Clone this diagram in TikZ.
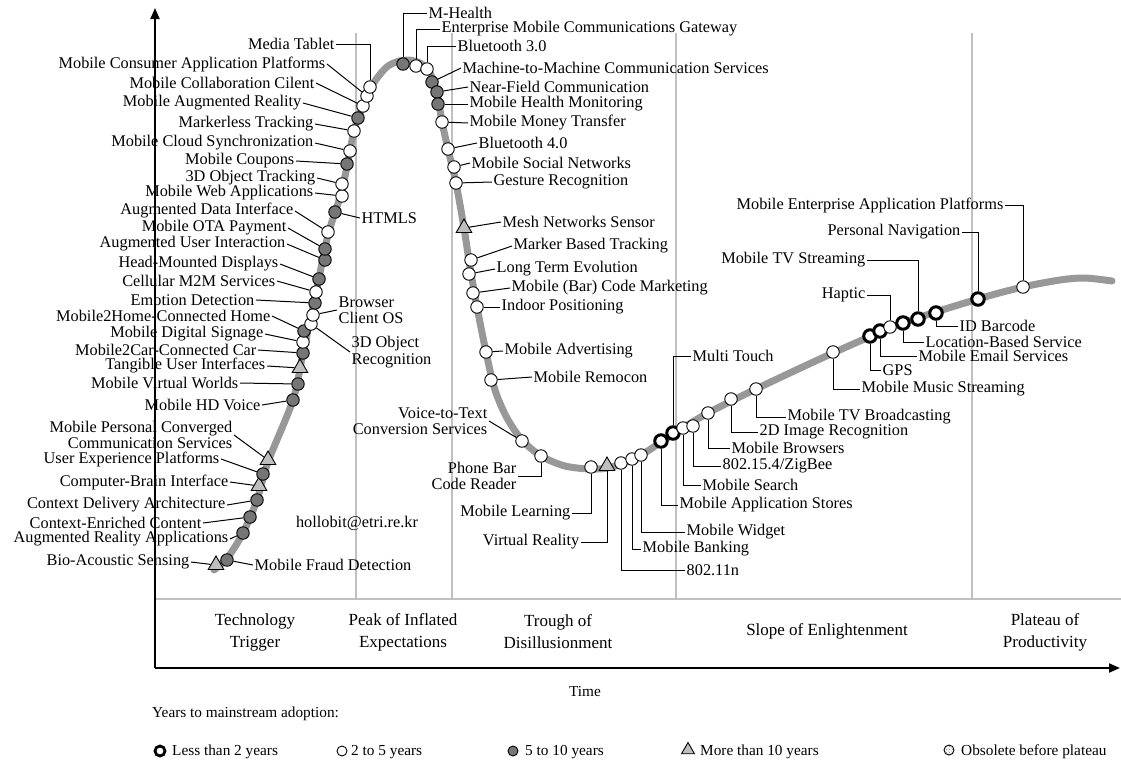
\documentclass[tikz,border=0pt]{standalone}
\usepackage{fontspec}
\setmainfont{Liberation Serif}
\usetikzlibrary{shapes.geometric,arrows.meta,patterns}
\definecolor{dkfill}{RGB}{118,118,118}
\definecolor{trifill}{RGB}{190,190,190}
\definecolor{curvec}{RGB}{152,152,152}
\definecolor{phasec}{RGB}{192,192,192}
\begin{document}
\begin{tikzpicture}[x=1pt,y=-1pt,
  every node/.style={inner sep=0pt},
  mk/.style={circle,draw=black,line width=0.9pt,minimum size=12.5pt},
  wc/.style={mk,fill=white},
  dc/.style={mk,fill=dkfill},
  bc/.style={circle,draw=black,line width=3pt,fill=white,minimum size=12.5pt},
  tri/.style={regular polygon,regular polygon sides=3,draw=black,line width=0.9pt,fill=trifill,minimum size=18pt},
  lab/.style={font=\fontsize{16.3}{16.5}\selectfont,inner sep=1.5pt},
  small/.style={font=\fontsize{15.3}{21}\selectfont},
  phlab/.style={font=\fontsize{17}{22}\selectfont},
  ld/.style={draw=black,line width=1pt},
  curve/.style={draw=curvec,line width=7pt,line cap=round},
  phase/.style={draw=phasec,line width=1.5pt},
  axis/.style={draw=black,line width=2pt,-{Triangle[length=11pt,width=9pt]}}
]
\useasboundingbox (0,0) rectangle (1121,769);

% phase grid
\draw[phase] (155,599) -- (1121,599);
\foreach \px in {356,452,676,972} \draw[phase] (\px,33) -- (\px,599);

% axes
\coordinate (origin) at (155,668);
\coordinate (ytop) at (155,8);
\coordinate (xend) at (1120,668);
\draw[axis] (origin) -- (ytop);
\draw[axis] (origin) -- (xend);

% hype curve
\draw[curve] plot[smooth,tension=0.5] coordinates {
 (214,570) (228,557) (243,533) (257,500) (268,462) (293,400) (303,353)
 (316,293) (328,235) (342,190) (354,131) (363,106) (373,84) (388,66)
 (405,60) (420,63) (430,73) (437,93) (442,122) (448,149) (456,183)
 (464,228) (470,267) (477,307) (486,352) (495,390) (507,418) (522,440)
 (541,456) (565,466) (591,469) (612,467) (641,455) (673,434) (708,413)
 (756,389) (833,353) (903,323) (978,299) (1023,287) (1060,280) (1085,278) (1112,281)};

% markers
\node[tri] (mbio) at (216,565) {};
\node[dc] (mfraud) at (227,560) {};
\node[dc] (mara) at (243,533) {};
\node[dc] (mcec) at (250,517) {};
\node[dc] (mcda) at (257,500) {};
\node[tri] (mcbi) at (259,486) {};
\node[dc] (muxp) at (263,474) {};
\node[tri] (mmpc) at (268,460) {};
\node[dc] (mhdv) at (293,400) {};
\node[dc] (mmvw) at (298,384) {};
\node[tri] (mtui) at (300,368) {};
\node[dc] (mm2c) at (303,353) {};
\node[wc] (mmds) at (303,342) {};
\node[dc] (mm2h) at (304,331) {};
\node[wc] (more) at (311,324) {};
\node[wc] (mbco) at (313,315) {};
\node[dc] (memo) at (315,303) {};
\node[wc] (mm2m) at (316,292) {};
\node[dc] (mhmd) at (319,279) {};
\node[dc] (maui) at (325,260) {};
\node[dc] (mota) at (325,249) {};
\node[wc] (madi) at (328,232) {};
\node[dc] (mhtml) at (335,212) {};
\node[wc] (mmwa) at (342,196) {};
\node[wc] (motr) at (342,184) {};
\node[dc] (mcou) at (347,164) {};
\node[wc] (mmcs) at (350,151) {};
\node[wc] (mmlt) at (354,131) {};
\node[dc] (mmar) at (358,118) {};
\node[wc] (mmcc) at (363,106) {};
\node[wc] (mmcap) at (367,96) {};
\node[wc] (mtab) at (370,87) {};

\node[dc] (mmh) at (403,64) {};
\node[wc] (memg) at (416,66) {};
\node[wc] (mbt3) at (427,69) {};
\node[dc] (mm2mc) at (432,82) {};
\node[dc] (mnfc) at (437,92) {};
\node[dc] (mhm) at (438,104) {};
\node[wc] (mmmt) at (442,122) {};
\node[wc] (mbt4) at (448,149) {};
\node[wc] (mmsn) at (454,167) {};
\node[wc] (mges) at (456,183) {};
\node[tri] (mmesh) at (464,228) {};
\node[wc] (mmbt) at (471,260) {};
\node[wc] (mlte) at (469,274) {};
\node[wc] (mbar) at (473,293) {};
\node[wc] (mind) at (477,307) {};
\node[wc] (madv) at (486,352) {};
\node[wc] (mrem) at (491,380) {};
\node[wc] (mvtt) at (522,441) {};
\node[wc] (mpbc) at (541,456) {};
\node[wc] (mmle) at (591,467) {};
\node[tri] (mvr) at (607,466) {};
\node[wc] (mw11) at (621,463) {};
\node[wc] (mban) at (632,459) {};
\node[wc] (mwid) at (641,455) {};
\node[bc] (mmas) at (661,441) {};
\node[bc] (mmt) at (673,433) {};
\node[wc] (msea) at (683,428) {};
\node[wc] (mzig) at (693,426) {};
\node[wc] (mbro) at (708,413) {};
\node[wc] (mimg) at (731,399) {};
\node[wc] (mtvb) at (756,389) {};
\node[wc] (mmus) at (833,352) {};
\node[bc] (mgps) at (870,336) {};
\node[bc] (mema) at (880,331) {};
\node[wc] (mhap) at (890,327) {};
\node[bc] (mlbs) at (903,323) {};
\node[bc] (mtvs) at (918,319) {};
\node[bc] (midb) at (936,313) {};
\node[bc] (mpn) at (978,299) {};
\node[wc] (mmea) at (1023,287) {};

% labels, rising slope
\node[lab,anchor=east] (ltab) at (336,44) {Media Tablet};
\node[lab,anchor=east] (lmcap) at (327,64) {Mobile Consumer Application Platforms};
\node[lab,anchor=east] (lmcc) at (316,83) {Mobile Collaboration Cilent};
\node[lab,anchor=east] (lmar) at (303,103) {Mobile Augmented Reality};
\node[lab,anchor=east] (lmlt) at (315,124) {Markerless Tracking};
\node[lab,anchor=east] (lmcs) at (315,143) {Mobile Cloud Synchronization};
\node[lab,anchor=east] (lcou) at (296,161) {Mobile Coupons};
\node[lab,anchor=east] (lotr) at (317,178) {3D Object Tracking};
\node[lab,anchor=east] (lmwa) at (315,193) {Mobile Web Applications};
\node[lab,anchor=east] (ladi) at (295,211) {Augmented Data Interface};
\node[lab,anchor=west] (lhtml) at (360,218) {HTMLS};
\node[lab,anchor=east] (lota) at (288,228) {Mobile OTA Payment};
\node[lab,anchor=east] (laui) at (287,244) {Augmented User Interaction};
\node[lab,anchor=east] (lhmd) at (280,264) {Head-Mounted Displays};
\node[lab,anchor=east] (lm2m) at (277,281) {Cellular M2M Services};
\node[lab,anchor=east] (lemo) at (256,300) {Emotion Detection};
\node[lab,anchor=west,align=left] (lbco) at (337,310) {Browser\\Client OS};
\node[lab,anchor=east] (lm2h) at (272,316) {Mobile2Home-Connected Home};
\node[lab,anchor=west,align=left] (lore) at (350,352) {3D Object\\Recognition};
\node[lab,anchor=east] (lmds) at (265,334) {Mobile Digital Signage};
\node[lab,anchor=east] (lm2c) at (258,350) {Mobile2Car-Connected Car};
\node[lab,anchor=east] (ltui) at (267,366) {Tangible User Interfaces};
\node[lab,anchor=east] (lmvw) at (240,383) {Mobile Virtual Worlds};
\node[lab,anchor=east] (lhdv) at (262,405) {Mobile HD Voice};
\node[lab,anchor=east,align=right] (lmpc) at (234,435) {Mobile Personal Converged\\Communication Services};
\node[lab,anchor=east] (luxp) at (221,459) {User Experience Platforms};
\node[lab,anchor=east] (lcbi) at (230,482) {Computer-Brain Interface};
\node[lab,anchor=east] (lcda) at (227,505) {Context Delivery Architecture};
\node[lab,anchor=east] (lcec) at (203,523) {Context-Enriched Content};
\node[lab,anchor=east] (lara) at (230,539) {Augmented Reality Applications};
\node[lab,anchor=east] (lbio) at (191,562) {Bio-Acoustic Sensing};
\node[lab,anchor=west] (lfraud) at (253,565) {Mobile Fraud Detection};
\node[lab] (mail) at (357,523) {hollobit@etri.re.kr};

% labels, peak and falling slope
\node[lab,anchor=west] (lmh) at (427,13) {M-Health};
\node[lab,anchor=west] (lemg) at (440,29) {Enterprise Mobile Communications Gateway};
\node[lab,anchor=west] (lbt3) at (456,46) {Bluetooth 3.0};
\node[lab,anchor=west] (lm2mc) at (461,68) {Machine-to-Machine Communication Services};
\node[lab,anchor=west] (lnfc) at (468,87) {Near-Field Communication};
\node[lab,anchor=west] (lhm) at (468,104) {Mobile Health Monitoring};
\node[lab,anchor=west] (lmmt) at (468,123) {Mobile Money Transfer};
\node[lab,anchor=west] (lbt4) at (477,143) {Bluetooth 4.0};
\node[lab,anchor=west] (lmsn) at (470,163) {Mobile Social Networks};
\node[lab,anchor=west] (lges) at (492,182) {Gesture Recognition};
\node[lab,anchor=west] (lmesh) at (501,222) {Mesh Networks Sensor};
\node[lab,anchor=west] (lmbt) at (512,246) {Marker Based Tracking};
\node[lab,anchor=west] (llte) at (495,269) {Long Term Evolution};
\node[lab,anchor=west] (lbar) at (510,288) {Mobile (Bar) Code Marketing};
\node[lab,anchor=west] (lind) at (500,307) {Indoor Positioning};
\node[lab,anchor=west] (ladv) at (503,351) {Mobile Advertising};
\node[lab,anchor=west] (lrem) at (532,377) {Mobile Remocon};
\node[lab,anchor=east,align=right] (lvtt) at (489,421) {Voice-to-Text\\Conversion Services};
\node[lab,anchor=east,align=right] (lpbc) at (518,476) {Phone Bar\\Code Reader};
\node[lab,anchor=east] (lmle) at (572,513) {Mobile Learning};
\node[lab,anchor=east] (lvr) at (581,542) {Virtual Reality};
\node[lab,anchor=west] (lw11) at (685,570) {802.11n};
\node[lab,anchor=west] (lban) at (641,549) {Mobile Banking};
\node[lab,anchor=west] (lwid) at (685,532) {Mobile Widget};
\node[lab,anchor=west] (lmas) at (678,505) {Mobile Application Stores};
\node[lab,anchor=west] (lsea) at (701,485) {Mobile Search};
\node[lab,anchor=west] (lzig) at (721,466) {802.15.4/ZigBee};
\node[lab,anchor=west] (lbro) at (730,448) {Mobile Browsers};
\node[lab,anchor=west] (limg) at (758,432) {2D Image Recognition};
\node[lab,anchor=west] (ltvb) at (786,417) {Mobile TV Broadcasting};
\node[lab,anchor=west] (lmt) at (691,356) {Multi Touch};
\node[lab,anchor=west] (lmus) at (860,389) {Mobile Music Streaming};
\node[lab,anchor=west] (lgps) at (881,370) {GPS};
\node[lab,anchor=west] (lema) at (917,356) {Mobile Email Services};
\node[lab,anchor=west] (llbs) at (924,342) {Location-Based Service};
\node[lab,anchor=west] (lidb) at (958,326) {ID Barcode};
\node[lab,anchor=east] (lhap) at (867,295) {Haptic};
\node[lab,anchor=east] (ltvs) at (867,260) {Mobile TV Streaming};
\node[lab,anchor=east] (lpn) at (962,232) {Personal Navigation};
\node[lab,anchor=east] (lmea) at (1005,205) {Mobile Enterprise Application Platforms};

% leaders, rising slope
\draw[ld] (ltab.east) -| (mtab);
\foreach \n in {mcap,mcc,mar,mlt,mcs,cou,otr,mwa,adi,ota,aui,hmd,m2m,emo,m2h,mds,m2c,tui,mvw,hdv,mpc,uxp,cbi,cda,cec,ara,bio}
  \draw[ld] (l\n.east) -- (m\n);
\foreach \n in {html,bco,ore,fraud}
  \draw[ld] (m\n) -- (l\n.west);

% leaders, peak and falling slope
\foreach \n in {mh,emg,bt3}
  \draw[ld] (m\n) |- (l\n.west);
\foreach \n in {m2mc,nfc,hm,mmt,bt4,msn,ges,mesh,mbt,lte,bar,ind,adv,rem}
  \draw[ld] (m\n) -- (l\n.west);
\draw[ld] (lvtt.east) -- (mvtt);
\foreach \n in {pbc,mle,vr}
  \draw[ld] (m\n) |- (l\n.east);
\foreach \n in {w11,ban,wid,mas,sea,zig,bro,img,tvb,mt,mus,gps,ema,lbs,idb}
  \draw[ld] (m\n) |- (l\n.west);
\foreach \n in {hap,tvs,pn,mea}
  \draw[ld] (l\n.east) -| (m\n);

% phase names
\node[phlab,align=center] (ph1) at (255,632) {Technology\\Trigger};
\node[phlab,align=center] (ph2) at (403,632) {Peak of Inflated\\Expectations};
\node[phlab,align=center] (ph3) at (558,632) {Trough of\\Disillusionment};
\node[phlab] (ph4) at (827,631) {Slope of Enlightenment};
\node[phlab,align=center] (ph5) at (1045,632) {Plateau of\\Productivity};
\node[small] (time) at (585,691) {Time};
\node[small,anchor=west] (years) at (152,714) {Years to mainstream adoption:};

% legend
\node[bc,minimum size=10pt,line width=2.8pt] (k1) at (160,751) {};
\node[small,anchor=west] (t1) at (172,752) {Less than 2 years};
\node[wc,minimum size=10pt] (k2) at (342,751) {};
\node[small,anchor=west] (t2) at (351,752) {2 to 5 years};
\node[dc,minimum size=10pt] (k3) at (513,751) {};
\node[small,anchor=west] (t3) at (525,752) {5 to 10 years};
\node[tri,minimum size=15pt] (k4) at (688,750) {};
\node[small,anchor=west] (t4) at (700,752) {More than 10 years};
\node[mk,minimum size=10pt,fill=white,pattern=crosshatch dots,pattern color=dkfill] (k5) at (949,750) {};
\node[small,anchor=west] (t5) at (961,752) {Obsolete before plateau};
\end{tikzpicture}
\end{document}
